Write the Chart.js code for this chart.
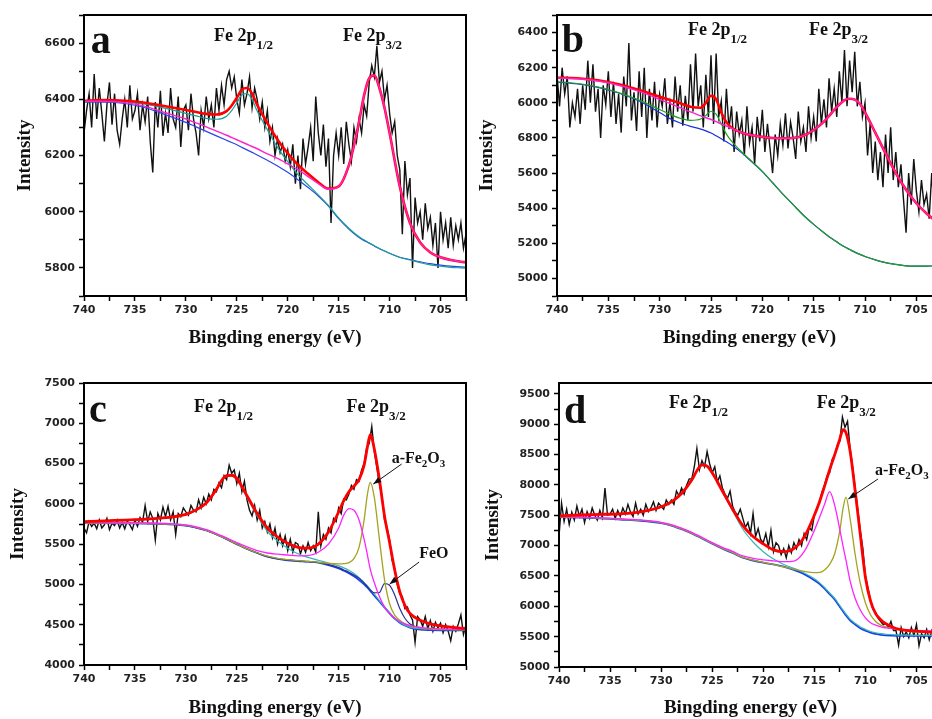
<!DOCTYPE html>
<html>
<head>
<meta charset="utf-8">
<title>Fe 2p XPS</title>
<script src="https://cdn.jsdelivr.net/npm/chart.js@4.4.1/dist/chart.umd.min.js"></script>
<style>
  html, body { margin: 0; padding: 0; background: #fff; }
  body { width: 932px; height: 719px; overflow: hidden; position: relative; }
  .panel { position: absolute; }
</style>
</head>
<body>
<canvas id="panelA" class="panel" style="left:0;top:0" width="475" height="350"></canvas>
<canvas id="panelB" class="panel" style="left:470px;top:0" width="480" height="350"></canvas>
<canvas id="panelC" class="panel" style="left:0;top:350px" width="475" height="369"></canvas>
<canvas id="panelD" class="panel" style="left:470px;top:350px" width="480" height="369"></canvas>
<script>
// ── Energy grids (eV) ─────────────────────────────────────────
const RAW_START = 740;
const RAW_STEP = 0.25;

const fitEnergyAB = [740, 738, 736, 734, 732, 730, 729, 728, 727, 726, 725.5, 725, 724.5, 724, 723.5, 723,
  722, 721, 720, 719, 718, 717, 716, 715, 714, 713.5, 713, 712.5, 712, 711.5, 711, 710.5, 710,
  709, 708, 707, 706, 705, 704, 703, 702.5];

const fitEnergyCD = [740, 738, 736, 734, 732, 730, 729, 728, 727, 726.5, 726, 725.5, 725,
  724, 723, 722, 721, 720, 719, 718, 717, 716, 715,
  714.5, 714, 713.5, 713, 712.5, 712.2, 711.9, 711.5, 711, 710.5, 710, 709.5, 709, 708.5, 708,
  707, 706, 705, 704, 703, 702.5];

const xTickValues = [740, 735, 730, 725, 720, 715, 710, 705];
const xTickLabels = ['740', '735', '730', '725', '720', '715', '710', '705'];

// ── Panel a ──────────────────────────────────────────────────
const yTickValuesA = [5800, 6000, 6200, 6400, 6600];
const yTickLabelsA = ['5800', '6000', '6200', '6400', '6600'];

const rawA = [
  6280, 6360, 6420, 6300,  6490, 6330, 6440, 6350,  6250, 6380, 6460, 6310,  6420, 6290, 6240, 6330,
  6400, 6300, 6450, 6330,  6360, 6420, 6290, 6380,  6320, 6410, 6250, 6140,  6390, 6300, 6430, 6270,
  6350, 6280, 6440, 6330,  6300, 6410, 6230, 6360,  6380, 6290, 6420, 6330,  6280, 6200, 6360, 6300,
  6410, 6330, 6380, 6300,  6440, 6360, 6450, 6380,  6470, 6500, 6440, 6480,  6400, 6350, 6470, 6380,
  6420, 6480, 6370, 6440,  6400, 6330, 6390, 6300,  6360, 6250, 6300, 6200,  6260, 6210, 6240, 6180,
  6220, 6160, 6240, 6100,  6200, 6080, 6260, 6170,  6230, 6300, 6180, 6410,  6280, 6200, 6310, 6160,
  6260, 5960, 6200, 6280,  6200, 6300, 6170, 6320,  6240, 6180, 6300, 6250,  6330, 6280, 6380, 6340,
  6460, 6520, 6480, 6590,  6460, 6500, 6400, 6450,  6350, 6280, 6320, 6200,  6150, 5920, 6180, 6060,
  6120, 5800, 6050, 5960,  6000, 5900, 6030, 5940,  5980, 5880, 5960, 5800,  6000, 5900, 5960, 5870,
  5980, 5880, 5950, 5900,  5960, 5870, 5920, 5820
];
const envelopeA = [6395, 6397, 6395, 6388, 6375, 6362, 6355, 6348, 6346, 6358, 6378, 6405, 6435, 6440, 6420, 6380,
  6315, 6256, 6208, 6167, 6135, 6105, 6082, 6090, 6165, 6235, 6320, 6415, 6475, 6485, 6440, 6370, 6280,
  6090, 5960, 5890, 5855, 5838, 5828, 5822, 5820];
const peak32A = [6393, 6393, 6388, 6375, 6352, 6330, 6316, 6302, 6287, 6272, 6264, 6256, 6248, 6240, 6232, 6224,
  6206, 6190, 6170, 6150, 6125, 6100, 6080, 6090, 6165, 6235, 6320, 6415, 6475, 6485, 6440, 6370, 6280,
  6090, 5960, 5890, 5855, 5838, 5828, 5822, 5820];
const peak12A = [6392, 6394, 6392, 6383, 6368, 6350, 6341, 6332, 6329, 6340, 6360, 6387, 6416, 6420, 6399, 6358,
  6292, 6229, 6178, 6132, 6096, 6060, 6022, 5978, 5941, 5925, 5911, 5899, 5889, 5879, 5869, 5860, 5852,
  5837, 5828, 5819, 5811, 5806, 5802, 5800, 5799];
const backgroundA = [6390, 6390, 6385, 6370, 6345, 6318, 6302, 6286, 6270, 6254, 6246, 6238, 6229, 6220, 6211, 6202,
  6183, 6163, 6140, 6114, 6086, 6056, 6020, 5975, 5938, 5922, 5908, 5897, 5888, 5878, 5868, 5860, 5852,
  5838, 5830, 5822, 5815, 5810, 5806, 5804, 5803];

// ── Panel b ──────────────────────────────────────────────────
const yTickValuesB = [5000, 5200, 5400, 5600, 5800, 6000, 6200, 6400];
const yTickLabelsB = ['5000', '5200', '5400', '5600', '6800', '6000', '6200', '6400'];

const rawB = [
  6160, 5980, 6200, 6050,  6150, 5860, 6000, 5920,  6080, 5880, 6100, 5960,  6240, 6000, 6220, 5950,
  6080, 5800, 6100, 5990,  6180, 5920, 6120, 5880,  6050, 5830, 6150, 5980,  6340, 5900, 6060, 5840,
  6180, 5920, 6200, 5800,  6080, 5900, 6120, 5860,  6050, 5980, 6140, 5880,  6000, 5860, 6150, 5950,
  6100, 5870, 6040, 5900,  6220, 5950, 6280, 5980,  6100, 5860, 6160, 5920,  6270, 5880, 6280, 5920,
  6010, 5780, 6080, 5850,  5980, 5720, 5950, 5820,  5900, 5700, 5980, 5770,  5860, 5650, 5920, 5780,
  5960, 5720, 5880, 5740,  5600, 5820, 5700, 5880,  5760, 5940, 5740, 5890,  5800, 5680, 5950, 5780,
  5860, 5720, 5980, 5800,  5920, 5780, 6080, 5880,  6020, 5860, 6140, 5950,  6080, 5920, 6180, 6000,
  6300, 5980, 6240, 6060,  6290, 5980, 6120, 5920,  6000, 5700, 5880, 5600,  5780, 5560, 5720, 5520,
  5820, 5600, 5860, 5560,  5720, 5520, 5650, 5450,  5260, 5600, 5420, 5680,  5500, 5380, 5560, 5420,
  5480, 5340, 5600, 5360,  5450, 5320, 5520, 5300
];
const envelopeB = [6143, 6140, 6128, 6105, 6073, 6035, 6016, 5997, 5978, 5972, 6000, 6040, 6020, 5945, 5890, 5858,
  5830, 5815, 5806, 5800, 5798, 5800, 5812, 5845, 5893, 5925, 5960, 5990, 6015, 6023, 6018, 5995, 5945,
  5830, 5712, 5600, 5505, 5428, 5370, 5322, 5300];
const peak32B = [6141, 6137, 6124, 6100, 6065, 6020, 5996, 5972, 5948, 5926, 5915, 5905, 5893, 5880, 5868, 5855,
  5830, 5815, 5806, 5800, 5798, 5800, 5812, 5845, 5893, 5925, 5960, 5990, 6015, 6023, 6018, 5995, 5945,
  5830, 5712, 5600, 5505, 5428, 5370, 5322, 5300];
const peak12B = [6120, 6110, 6090, 6058, 6015, 5962, 5935, 5912, 5900, 5908, 5928, 5952, 5935, 5880, 5822, 5782,
  5720, 5665, 5610, 5545, 5480, 5420, 5360, 5308, 5260, 5238, 5218, 5198, 5180, 5165, 5150, 5137, 5125,
  5106, 5090, 5080, 5072, 5070, 5070, 5075, 5080];
const backgroundB = [6118, 6108, 6088, 6056, 6010, 5945, 5910, 5885, 5866, 5850, 5840, 5828, 5812, 5795, 5778, 5760,
  5715, 5662, 5608, 5545, 5480, 5420, 5360, 5308, 5260, 5238, 5218, 5198, 5180, 5165, 5150, 5137, 5125,
  5106, 5090, 5080, 5072, 5070, 5070, 5075, 5080];

// ── Panel c ──────────────────────────────────────────────────
const yTickValuesC = [4000, 4500, 5000, 5500, 6000, 6500, 7000, 7500];
const yTickLabelsC = ['4000', '4500', '5000', '5500', '6000', '6500', '7000', '7500'];

const rawC = [
  5700, 5640, 5780, 5720,  5760, 5690, 5800, 5700,  5740, 5820, 5680, 5760,  5730, 5800, 5700, 5770,
  5690, 5790, 5740, 5680,  5800, 5720, 5830, 5770,  5980, 5780, 5900, 5820,  5550, 5880, 5800, 5960,
  5840, 5970, 5800, 5900,  5620, 5880, 5840, 5950,  5900, 5860, 5980, 5920,  5900, 6050, 5950, 6080,
  6000, 6120, 6050, 6180,  6150, 6260, 6200, 6350,  6300, 6480, 6380, 6420,  6250, 6380, 6150, 6280,
  6050, 5920, 5850, 5980,  5800, 5920, 5700, 5780,  5650, 5750, 5580, 5700,  5500, 5620, 5480, 5600,
  5420, 5560, 5400, 5520,  5500, 5380, 5480, 5400,  5520, 5420, 5480, 5400,  5900, 5480, 5620, 5560,
  5700, 5640, 5820, 5780,  5950, 5880, 6060, 6050,  6120, 6230, 6180, 6300,  6280, 6420, 6500, 6700,
  6750, 6960, 6650, 6450,  6250, 6100, 5800, 5700,  5550, 5300, 5200, 5000,  4880, 4850, 4700, 4720,
  4620, 4560, 4280, 4600,  4560, 4480, 4600, 4450,  4550, 4420, 4530, 4460,  4520, 4400, 4500, 4420,
  4300, 4480, 4420, 4510,  4620, 4380, 4500, 4420
];
const envelopeC = [5779, 5790, 5798, 5810, 5828, 5870, 5925, 6010, 6180, 6290, 6350, 6355, 6315,
  6100, 5880, 5700, 5590, 5510, 5460, 5450, 5500, 5650, 5900,
  6040, 6150, 6220, 6300, 6480, 6690, 6860, 6680, 6300, 5850, 5520, 5180, 4910, 4740, 4640,
  4555, 4510, 4485, 4470, 4458, 4452];
const peak12C = [5775, 5785, 5793, 5805, 5822, 5863, 5918, 6002, 6170, 6280, 6340, 6345, 6300,
  6080, 5850, 5660, 5540, 5450, 5380, 5335, 5300, 5265, 5230,
  5205, 5175, 5135, 5085, 5020, 4985, 4940, 4880, 4800, 4720, 4650, 4580, 4530, 4495, 4470,
  4450, 4445, 4442, 4440, 4440, 4440];
const satC = [5768, 5768, 5766, 5763, 5756, 5738, 5713, 5680, 5632, 5605, 5577, 5548, 5520,
  5465, 5420, 5390, 5375, 5365, 5355, 5358, 5400, 5500, 5700,
  5860, 5940, 5920, 5800, 5560, 5380, 5190, 5020, 4850, 4720, 4640, 4580, 4540, 4510, 4490,
  4468, 4455, 4448, 4445, 4443, 4442];
const fe2o3C = [5762, 5762, 5760, 5757, 5750, 5732, 5707, 5672, 5622, 5594, 5564, 5532, 5502,
  5442, 5393, 5350, 5324, 5308, 5295, 5285, 5275, 5262, 5255,
  5258, 5270, 5320, 5460, 5800, 6100, 6265, 6080, 5560, 5060, 4760, 4620, 4555, 4510, 4485,
  4458, 4445, 4440, 4438, 4436, 4435];
const feoC = [5761, 5761, 5759, 5756, 5749, 5731, 5706, 5671, 5621, 5593, 5563, 5531, 5501,
  5441, 5391, 5346, 5319, 5301, 5291, 5283, 5272, 5245, 5208,
  5180, 5152, 5118, 5078, 5020, 4975, 4930, 4895, 4900, 5010, 4990, 4870, 4700, 4580, 4510,
  4462, 4446, 4440, 4438, 4436, 4435];
const backgroundC = [5760, 5760, 5758, 5755, 5748, 5730, 5705, 5670, 5620, 5592, 5562, 5530, 5500,
  5440, 5390, 5345, 5318, 5300, 5290, 5282, 5270, 5240, 5200,
  5170, 5140, 5100, 5055, 5000, 4962, 4920, 4860, 4790, 4715, 4640, 4575, 4525, 4490, 4465,
  4440, 4432, 4430, 4430, 4430, 4430];

// ── Panel d ──────────────────────────────────────────────────
const yTickValuesD = [5000, 5500, 6000, 6500, 7000, 7500, 8000, 8500, 9000, 9500];
const yTickLabelsD = ['5000', '5500', '6000', '6500', '7000', '7500', '8000', '8500', '9000', '9500'];

const rawD = [
  7150, 7700, 7400, 7600,  7350, 7550, 7420, 7650,  7480, 7600, 7380, 7560,  7450, 7620, 7500, 7420,
  7580, 7460, 7950, 7500,  7520, 7600, 7450, 7580,  7480, 7620, 7520, 7680,  7550, 7480, 7700, 7520,
  7600, 7500, 7680, 7560,  7620, 7720, 7580, 7700,  7650, 7600, 7750, 7680,  7750, 7680, 7900, 7820,
  7950, 7850, 8000, 8100,  8100, 8300, 8600, 8250,  8400, 8300, 8550, 8350,  8200, 8300, 8050, 8150,
  7950, 7850, 7780, 7900,  7650, 7550, 7500, 7600,  7450, 7300, 7380, 7200,  7530, 7150, 7280, 7100,
  7050, 7200, 6980, 7250,  6900, 7050, 7000, 6850,  6950, 6800, 7000, 6880,  7050, 6950, 7100, 7000,
  7200, 7100, 7300, 7250,  7500, 7620, 7700, 7880,  8000, 8150, 8200, 8420,  8500, 8650, 8720, 9120,
  8950, 9050, 8600, 8300,  7950, 7600, 7250, 6950,  6500, 6300, 6100, 5950,  5900, 5800, 5750, 5700,
  5720, 5650, 5750, 5600,  5600, 5360, 5650, 5500,  5580, 5480, 5650, 5520,  5700, 5350, 5550, 5480,
  5620, 5450, 5600, 5500,  5550, 5420, 5620, 5480
];
const envelopeD = [7491, 7505, 7515, 7525, 7557, 7640, 7722, 7860, 8080, 8235, 8330, 8310, 8200,
  7900, 7600, 7330, 7150, 7030, 6930, 6900, 6950, 7140, 7500,
  7720, 7980, 8250, 8500, 8760, 8910, 8860, 8560, 7900, 7180, 6480, 6090, 5880, 5780, 5715,
  5635, 5605, 5592, 5580, 5574, 5570];
const peak12D = [7485, 7498, 7508, 7518, 7550, 7632, 7714, 7852, 8072, 8226, 8320, 8300, 8188,
  7880, 7570, 7270, 7060, 6900, 6780, 6690, 6625, 6550, 6455,
  6390, 6310, 6220, 6130, 6010, 5940, 5870, 5790, 5720, 5660, 5620, 5585, 5565, 5550, 5540,
  5530, 5525, 5522, 5520, 5520, 5520];
const satD = [7480, 7472, 7462, 7443, 7423, 7385, 7345, 7287, 7218, 7178, 7138, 7093, 7050,
  6972, 6905, 6830, 6790, 6765, 6750, 6735, 6745, 6900, 7250,
  7460, 7680, 7890, 7660, 7260, 7000, 6760, 6420, 6130, 5940, 5810, 5730, 5690, 5660, 5645,
  5625, 5610, 5600, 5595, 5592, 5590];
const fe2o3D = [7475, 7465, 7455, 7435, 7415, 7375, 7335, 7275, 7205, 7165, 7125, 7080, 7035,
  6955, 6885, 6805, 6760, 6725, 6690, 6650, 6610, 6575, 6555,
  6558, 6600, 6690, 6870, 7250, 7600, 7800, 7450, 6850, 6380, 6060, 5860, 5750, 5690, 5660,
  5620, 5590, 5575, 5570, 5568, 5566];
const backgroundD = [7470, 7460, 7450, 7430, 7410, 7370, 7330, 7270, 7200, 7160, 7120, 7075, 7030,
  6950, 6880, 6800, 6755, 6720, 6690, 6655, 6600, 6530, 6430,
  6370, 6290, 6200, 6110, 5990, 5920, 5850, 5770, 5700, 5640, 5600, 5565, 5545, 5530, 5522,
  5515, 5515, 5515, 5515, 5515, 5515];

// ── Shared styling ───────────────────────────────────────────
const SERIF = '"Liberation Serif", "Times New Roman", serif';
const TICK_FONT = { family: '"DejaVu Sans", sans-serif', size: 11, weight: 'bold' };
const TITLE_FONT = { family: SERIF, size: 19, weight: 'bold' };

function rawSeries(ys) {
  return ys.map((v, i) => ({ x: RAW_START - i * RAW_STEP, y: v }));
}
function fitSeries(xs, ys) {
  return ys.map((v, i) => ({ x: xs[i], y: v }));
}
function pick(values, labels) {
  return function (v) {
    for (let k = 0; k < values.length; k++) {
      if (Math.abs(values[k] - v) < 1e-6) return labels[k];
    }
    return '';
  };
}

function drawRich(ctx, parts, x, y, size, subSize, drop) {
  let cx = x;
  parts.forEach(p => {
    const sub = p[1];
    ctx.font = 'bold ' + (sub ? subSize : size) + 'px ' + SERIF;
    ctx.fillText(p[0], cx, y + (sub ? drop : 0));
    cx += ctx.measureText(p[0]).width;
  });
}

function drawArrow(ctx, x1, y1, x2, y2) {
  ctx.lineWidth = 1;
  ctx.beginPath();
  ctx.moveTo(x1, y1);
  ctx.lineTo(x2, y2);
  ctx.stroke();
  const a = Math.atan2(y2 - y1, x2 - x1), L = 8, W = 3;
  ctx.beginPath();
  ctx.moveTo(x2, y2);
  ctx.lineTo(x2 - L * Math.cos(a) + W * Math.sin(a), y2 - L * Math.sin(a) - W * Math.cos(a));
  ctx.lineTo(x2 - L * Math.cos(a) - W * Math.sin(a), y2 - L * Math.sin(a) + W * Math.cos(a));
  ctx.closePath();
  ctx.fill();
}

// frame round the plot + panel letter, peak names, arrows
const xpsNotes = {
  id: 'xpsNotes',
  afterDraw(chart, args, opts) {
    const { ctx, chartArea: area, scales } = chart;
    const px = e => scales.x.getPixelForValue(e);
    const py = v => scales.y.getPixelForValue(v);
    ctx.save();
    ctx.strokeStyle = '#000';
    ctx.lineWidth = 2;
    ctx.strokeRect(area.left, area.top, area.right - area.left, area.bottom - area.top);
    ctx.fillStyle = '#111';
    ctx.strokeStyle = '#111';
    ctx.textAlign = 'left';
    ctx.textBaseline = 'alphabetic';
    (opts.items || []).forEach(it => {
      if (it.kind === 'letter') {
        ctx.font = 'bold 40px ' + SERIF;
        ctx.fillText(it.text, px(it.e), py(it.v));
      } else if (it.kind === 'fe') {
        drawRich(ctx, [['Fe 2p', 0], [it.sub, 1]], px(it.e), py(it.v), 18, 13, 8);
      } else if (it.kind === 'text') {
        drawRich(ctx, it.parts, px(it.e), py(it.v), 16, 11, 4);
      } else if (it.kind === 'arrow') {
        drawArrow(ctx, px(it.e1), py(it.v1), px(it.e2), py(it.v2));
      }
    });
    ctx.restore();
  }
};

function makeChart(id, cfg) {
  const datasets = [{ data: rawSeries(cfg.raw), borderColor: '#111', borderWidth: 1.4, order: 10 }]
    .concat(cfg.curves.map(c => ({
      data: fitSeries(cfg.grid, c.values),
      borderColor: c.color,
      borderWidth: c.width,
      cubicInterpolationMode: 'monotone',
      order: c.order
    })));
  datasets.forEach(d => { d.pointRadius = 0; d.fill = false; });

  return new Chart(document.getElementById(id), {
    type: 'line',
    data: { datasets: datasets },
    options: {
      responsive: false,
      animation: false,
      events: [],
      layout: { padding: cfg.pad },
      plugins: {
        legend: { display: false },
        tooltip: { enabled: false },
        xpsNotes: { items: cfg.notes }
      },
      scales: {
        x: {
          type: 'linear', reverse: true, min: 702.5, max: 740,
          afterFit: s => { s.height = cfg.xAxisHeight; },
          border: { display: true, color: '#000', width: 2 },
          grid: { drawOnChartArea: false, tickLength: 5, tickColor: '#000', tickWidth: 1.5 },
          ticks: {
            stepSize: 2.5, autoSkip: false, maxRotation: 0, includeBounds: false,
            padding: 3, color: '#222', font: TICK_FONT,
            callback: pick(xTickValues, xTickLabels)
          },
          title: {
            display: true, text: 'Bingding energy (eV)', color: '#111', font: TITLE_FONT,
            padding: { top: 0, bottom: cfg.xTitlePad }
          }
        },
        y: {
          type: 'linear', min: cfg.yMin, max: cfg.yMax,
          afterFit: s => { s.width = cfg.yAxisWidth; },
          border: { display: true, color: '#000', width: 2 },
          grid: { drawOnChartArea: false, tickLength: 5, tickColor: '#000', tickWidth: 1.5 },
          ticks: {
            stepSize: cfg.yStep, autoSkip: false, includeBounds: false,
            padding: 4, color: '#222', font: TICK_FONT,
            callback: pick(cfg.yTicks, cfg.yLabels)
          },
          title: {
            display: true, text: 'Intensity', color: '#111', font: TITLE_FONT,
            padding: { top: cfg.yTitlePad, bottom: 0 }
          }
        }
      }
    },
    plugins: [xpsNotes]
  });
}

// ── Build the four panels ────────────────────────────────────
makeChart('panelA', {
  raw: rawA, grid: fitEnergyAB,
  yMin: 5700, yMax: 6700, yStep: 100, yTicks: yTickValuesA, yLabels: yTickLabelsA,
  pad: { left: 0, right: 9, top: 15, bottom: 0 }, yAxisWidth: 84, xAxisHeight: 54, xTitlePad: 1, yTitlePad: 14,
  curves: [
    { values: backgroundA, color: '#2846e6', width: 1.2, order: 6 },
    { values: peak12A, color: '#1e9e96', width: 1.2, order: 5 },
    { values: envelopeA, color: '#ff0000', width: 2.6, order: 0 },
    { values: peak32A, color: '#ff22cc', width: 1.4, order: -1 }
  ],
  notes: [
    { kind: 'letter', text: 'a', e: 739.34, v: 6565 },
    { kind: 'fe', sub: '1/2', e: 727.24, v: 6608 },
    { kind: 'fe', sub: '3/2', e: 714.58, v: 6607 }
  ]
});

makeChart('panelB', {
  raw: rawB, grid: fitEnergyAB,
  yMin: 4900, yMax: 6500, yStep: 100, yTicks: yTickValuesB, yLabels: yTickLabelsB,
  pad: { left: 0, right: 8, top: 15, bottom: 0 }, yAxisWidth: 87, xAxisHeight: 54, xTitlePad: 1, yTitlePad: 6,
  curves: [
    { values: backgroundB, color: '#1a2fe0', width: 1.2, order: 6 },
    { values: peak12B, color: '#22a022', width: 1.2, order: 5 },
    { values: envelopeB, color: '#ff0000', width: 2.6, order: 0 },
    { values: peak32B, color: '#ff22cc', width: 1.4, order: -1 }
  ],
  notes: [
    { kind: 'letter', text: 'b', e: 739.54, v: 6291 },
    { kind: 'fe', sub: '1/2', e: 727.24, v: 6386 },
    { kind: 'fe', sub: '3/2', e: 715.46, v: 6386 }
  ]
});

makeChart('panelC', {
  raw: rawC, grid: fitEnergyCD,
  yMin: 4000, yMax: 7500, yStep: 250, yTicks: yTickValuesC, yLabels: yTickLabelsC,
  pad: { left: 0, right: 9, top: 33, bottom: 0 }, yAxisWidth: 84, xAxisHeight: 54, xTitlePad: 0, yTitlePad: 7,
  curves: [
    { values: backgroundC, color: '#1a3cf0', width: 1.8, order: 6 },
    { values: peak12C, color: '#35b5b5', width: 1.2, order: 5 },
    { values: feoC, color: '#303090', width: 1.2, order: 4 },
    { values: fe2o3C, color: '#a3a31f', width: 1.3, order: 3 },
    { values: satC, color: '#ff22ff', width: 1.3, order: 2 },
    { values: envelopeC, color: '#ff0000', width: 2.8, order: 0 }
  ],
  notes: [
    { kind: 'letter', text: 'c', e: 739.5, v: 7019 },
    { kind: 'fe', sub: '1/2', e: 729.2, v: 7143 },
    { kind: 'fe', sub: '3/2', e: 714.22, v: 7143 },
    { kind: 'text', parts: [['a-Fe', 0], ['2', 1], ['O', 0], ['3', 1]], e: 709.8, v: 6503 },
    { kind: 'arrow', e1: 708.82, v1: 6494, e2: 711.6, v2: 6246 },
    { kind: 'text', parts: [['FeO', 0]], e: 707.1, v: 5324 },
    { kind: 'arrow', e1: 707.1, v1: 5278, e2: 710.0, v2: 5005 }
  ]
});

makeChart('panelD', {
  raw: rawD, grid: fitEnergyCD,
  yMin: 5000, yMax: 9680, yStep: 250, yTicks: yTickValuesD, yLabels: yTickLabelsD,
  pad: { left: 0, right: 8, top: 33, bottom: 0 }, yAxisWidth: 89, xAxisHeight: 52, xTitlePad: 0, yTitlePad: 12,
  curves: [
    { values: backgroundD, color: '#1a3cf0', width: 1.8, order: 6 },
    { values: peak12D, color: '#35b5b5', width: 1.2, order: 5 },
    { values: fe2o3D, color: '#a3a31f', width: 1.3, order: 3 },
    { values: satD, color: '#ff22ff', width: 1.3, order: 2 },
    { values: envelopeD, color: '#ff0000', width: 2.8, order: 0 }
  ],
  notes: [
    { kind: 'letter', text: 'd', e: 739.5, v: 9016 },
    { kind: 'fe', sub: '1/2', e: 729.23, v: 9263 },
    { kind: 'fe', sub: '3/2', e: 714.77, v: 9263 },
    { kind: 'text', parts: [['a-Fe', 0], ['2', 1], ['O', 0], ['3', 1]], e: 709.06, v: 8164 },
    { kind: 'arrow', e1: 708.77, v1: 8098, e2: 711.67, v2: 7769 }
  ]
});
</script>
</body>
</html>
